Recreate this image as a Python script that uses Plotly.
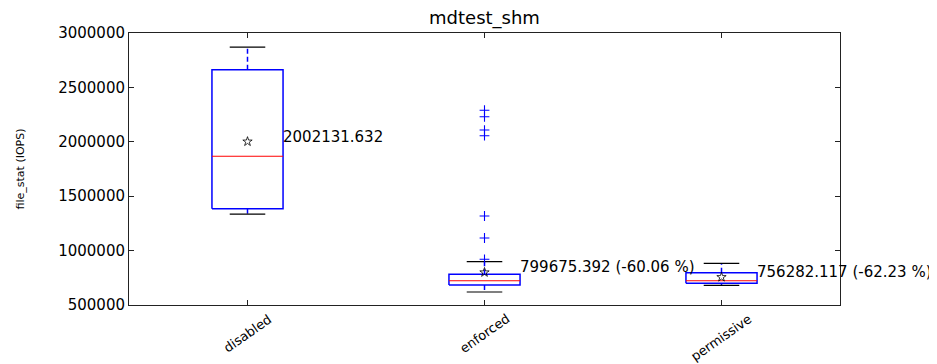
import math
import plotly.graph_objects as go

categories = ["disabled", "enforced", "permissive"]
q1 = [1385000, 684000, 699000]
medians = [1867000, 723000, 723000]
q3 = [2663000, 782000, 797000]
whisker_low = [1336000, 619500, 681000]
whisker_high = [2871000, 898000, 883000]
means = [2002131.632, 799675.392, 756282.117]
outlier_cat = [1, 1, 1, 1, 1, 1, 1]
outlier_vals = [2290000, 2230000, 2108000, 2056000, 1318000, 1116000, 920000]
y_ticks = [500000, 1000000, 1500000, 2000000, 2500000, 3000000]

positions = [i + 1 for i in range(len(categories))]
half_box = 0.15
half_cap = 0.075
font_family = "DejaVu Sans"

box_x, box_y = [], []
med_x, med_y = [], []
wh_x, wh_y = [], []
cap_x, cap_y = [], []
for p, a, m, b, lo, hi in zip(positions, q1, medians, q3, whisker_low, whisker_high):
    box_x += [p - half_box, p + half_box, p + half_box, p - half_box, p - half_box, None]
    box_y += [a, a, b, b, a, None]
    med_x += [p - half_box, p + half_box, None]
    med_y += [m, m, None]
    wh_x += [p, p, None, p, p, None]
    wh_y += [a, lo, None, b, hi, None]
    cap_x += [p - half_cap, p + half_cap, None, p - half_cap, p + half_cap, None]
    cap_y += [lo, lo, None, hi, hi, None]

fig = go.Figure()
fig.add_trace(go.Scatter(x=wh_x, y=wh_y, mode="lines",
                         line=dict(color="blue", width=1.5, dash="5px,3px"), hoverinfo="skip"))
fig.add_trace(go.Scatter(x=cap_x, y=cap_y, mode="lines",
                         line=dict(color="black", width=1.2), hoverinfo="skip"))
fig.add_trace(go.Scatter(x=box_x, y=box_y, mode="lines",
                         line=dict(color="blue", width=1.5), hoverinfo="skip"))
fig.add_trace(go.Scatter(x=med_x, y=med_y, mode="lines",
                         line=dict(color="red", width=1.2), hoverinfo="skip"))
fig.add_trace(go.Scatter(x=[positions[c] for c in outlier_cat], y=outlier_vals, mode="markers",
                         marker=dict(symbol="cross-thin", size=7, line=dict(color="blue", width=1.1))))
fig.add_trace(go.Scatter(x=positions, y=means, mode="markers",
                         marker=dict(symbol="star-open", size=7, color="black", line=dict(width=0.8))))

base = means[0]
for i, (p, m) in enumerate(zip(positions, means)):
    if i == 0:
        txt = f"{m:.3f}"
    else:
        txt = f"{m:.3f} ({(m - base) / base * 100:.2f} %)"
    fig.add_annotation(x=p + half_box, y=m, text=txt, showarrow=False,
                       xanchor="left", yanchor="middle", yshift=5, xshift=-2,
                       font=dict(family=font_family, size=15, color="black"))

# category labels, rotated and centred under their ticks
label_size = 13
label_angle = 35
for p, c in zip(positions, categories):
    est_len = 0.6 * label_size * len(c)
    h = est_len * math.sin(math.radians(label_angle)) + label_size * math.cos(math.radians(label_angle))
    fig.add_annotation(x=p, xref="x", y=0, yref="paper", text=c, showarrow=False,
                       textangle=-label_angle, xanchor="center", yanchor="middle",
                       yshift=-(5 + h / 2),
                       font=dict(family=font_family, size=label_size, color="black"))

axis_common = dict(showline=True, linecolor="#222", linewidth=1, mirror="ticks",
                   ticks="inside", ticklen=5, tickcolor="#222", showgrid=False,
                   zeroline=False, automargin=False)

fig.update_layout(
    width=929, height=356,
    margin=dict(l=121, r=97, t=25, b=59, autoexpand=False),
    paper_bgcolor="white", plot_bgcolor="white",
    showlegend=False,
    title=dict(text="mdtest_shm", x=0.5129, xanchor="center", y=0.972, yanchor="middle",
               font=dict(family=font_family, size=18, color="black")),
    xaxis=dict(range=[0.5, 3.5], tickvals=positions, showticklabels=False,
               **axis_common),
    yaxis=dict(range=[500000, 3000000], tickvals=y_ticks, tickformat="d",
               tickfont=dict(family=font_family, size=15, color="black"),
               title=dict(text="file_stat (IOPS)", standoff=31,
                          font=dict(family=font_family, size=11, color="black")),
               **axis_common),
)

fig.write_html("out.html")
